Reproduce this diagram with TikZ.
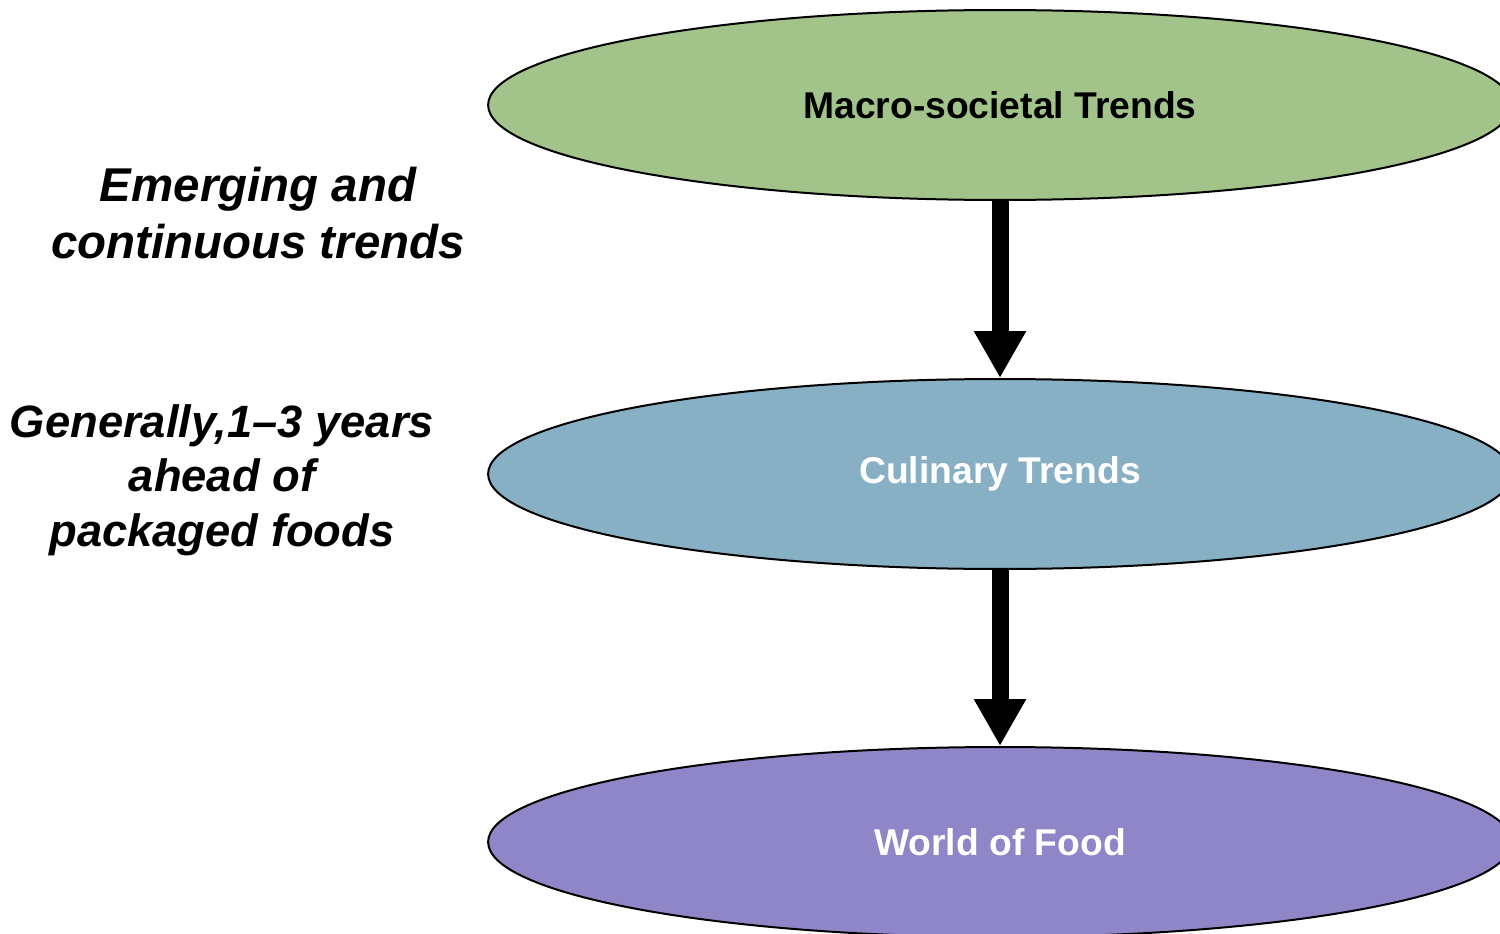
\documentclass[tikz,border=0pt]{standalone}
\usepackage{fontspec}
\setmainfont{Liberation Sans}
\usetikzlibrary{shapes.geometric,arrows.meta}

\definecolor{macrogreen}{HTML}{A2C389}
\definecolor{culinaryblue}{HTML}{88B0C4}
\definecolor{foodpurple}{HTML}{8E86C6}

\tikzset{
  trend/.style={ellipse, draw=black, line width=0.04cm, minimum width=20.48cm,
    minimum height=3.8cm, inner sep=0pt, font=\fontsize{21.2}{25}\selectfont\bfseries},
  bigarrow/.style={line width=0.34cm, -{Triangle[width=0.98cm, length=0.94cm]}},
  sidenote/.style={align=center, font=\fontsize{27}{32}\selectfont\bfseries\itshape}
}

\begin{document}
\begin{tikzpicture}[x=0.02cm, y=-0.02cm]
    \useasboundingbox (0,0) rectangle (1500,933);
    \clip (0,0) rectangle (1500,933);
    % Three stacked trend levels
    \node[trend, fill=macrogreen] (macro) at (1000,105) {Macro-societal Trends};
    \node[trend, fill=culinaryblue, text=white] (culinary) at (1000,474) {Culinary Trends};
    \node[trend, fill=foodpurple, text=white] (food) at (1000,842) {World of Food};
    \draw[bigarrow] (macro.south) -- (culinary.north);
    \draw[bigarrow] (culinary.south) -- (food.north);
    % Notes on the left
    \node[sidenote] (emerging) at (258,213) {Emerging and\\continuous trends};
    \node[sidenote, font=\fontsize{25.8}{31}\selectfont\bfseries\itshape] (ahead) at (222,480)
      {Generally,1–3 years\\ahead of\\packaged foods};
\end{tikzpicture}
\end{document}
